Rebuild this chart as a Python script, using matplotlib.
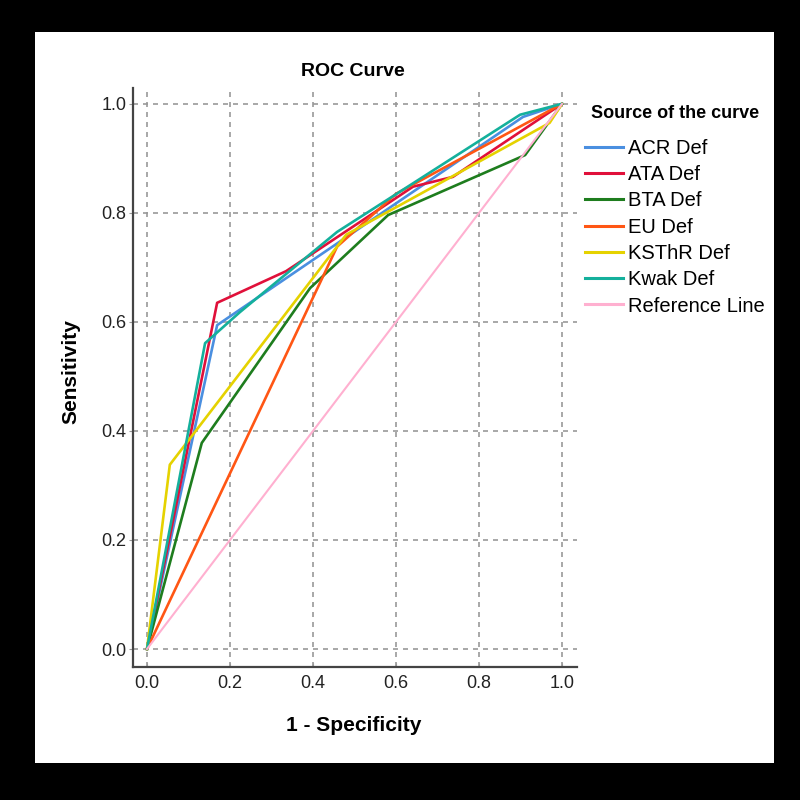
import matplotlib
matplotlib.use("Agg")
import matplotlib.pyplot as plt
from matplotlib.patches import Rectangle

plt.rcParams['font.family'] = ['Liberation Sans', 'DejaVu Sans']

# ROC points (1 - specificity, sensitivity)
fpr_acr = [0, 0.169, 0.906, 1]
tpr_acr = [0, 0.594, 0.976, 1]
fpr_ata = [0, 0.169, 0.335, 0.641, 0.737, 1]
tpr_ata = [0, 0.635, 0.693, 0.848, 0.866, 1]
fpr_bta = [0, 0.132, 0.393, 0.581, 0.911, 1]
tpr_bta = [0, 0.378, 0.662, 0.796, 0.906, 1]
fpr_eu = [0, 0.458, 0.6, 1]
tpr_eu = [0, 0.738, 0.835, 1]
fpr_ksthr = [0, 0.055, 0.48, 0.97, 1]
tpr_ksthr = [0, 0.338, 0.76, 0.965, 1]
fpr_kwak = [0, 0.14, 0.224, 0.458, 0.899, 1]
tpr_kwak = [0, 0.561, 0.618, 0.765, 0.98, 1]
fpr_ref = [0, 1]
tpr_ref = [0, 1]

labels = ['ACR Def', 'ATA Def', 'BTA Def', 'EU Def', 'KSThR Def', 'Kwak Def', 'Reference Line']
colors = ['#4a8fe0', '#e0103a', '#1e7d1e', '#ff5614', '#e5d200', '#14b09c', '#ffb0d0']
ticks = [0.0, 0.2, 0.4, 0.6, 0.8, 1.0]

fig = plt.figure(figsize=(8, 8), dpi=100, facecolor='black')
fig.patches.append(Rectangle((35/800, 37/800), 739/800, 731/800, transform=fig.transFigure,
                             facecolor='white', edgecolor='none', zorder=-10))

ax = fig.add_axes([133/800, 133/800, 444/800, 579/800])
ax.set_facecolor('white')

curves = [(fpr_acr, tpr_acr), (fpr_ata, tpr_ata), (fpr_bta, tpr_bta), (fpr_eu, tpr_eu),
          (fpr_ksthr, tpr_ksthr), (fpr_kwak, tpr_kwak), (fpr_ref, tpr_ref)]
for (xs, ys), lab, col in zip(curves, labels, colors):
    lw = 1.5 if lab == 'Reference Line' else 1.9
    ax.plot(xs, ys, color=col, lw=lw, label=lab)

ax.set_xlim(-0.0337, 1.036)
ax.set_ylim(-0.033, 1.029)
ax.set_xticks(ticks)
ax.set_yticks(ticks)
ax.set_xticklabels(['%.1f' % t for t in ticks])
ax.set_yticklabels(['%.1f' % t for t in ticks])
ax.grid(True, linestyle=(0, (3, 3)), color='#999999', lw=1.2)
ax.set_axisbelow(True)

for s in ['top', 'right']:
    ax.spines[s].set_visible(False)
for s in ['left', 'bottom']:
    ax.spines[s].set_color('#444444')
    ax.spines[s].set_linewidth(1.6)

ax.tick_params(axis='x', direction='in', length=3, color='#999999', pad=6, labelsize=13, labelcolor='#222222')
ax.tick_params(axis='y', direction='out', length=3, color='#999999', pad=1.5, labelsize=13, labelcolor='#222222')

ax.set_xlabel('1 - Specificity', fontsize=15, fontweight='bold')
ax.xaxis.set_label_coords(0.498, -0.085)
ax.set_ylabel('Sensitivity', fontsize=15, fontweight='bold')
ax.yaxis.set_label_coords(-0.119, 0.51)

fig.text(353/800, 1 - 72/800, 'ROC Curve', ha='center', va='center', fontsize=14, fontweight='bold')

# legend title as its own text, entries below it
fig.text(591/800, 1 - 114/800, 'Source of the curve', ha='left', va='center', fontsize=13, fontweight='bold')
leg = ax.legend(loc='upper left', bbox_to_anchor=(585/800, 1 - 139/800), bbox_transform=fig.transFigure,
                frameon=False, fontsize=14.5, handlelength=1.9, handletextpad=0.25,
                labelspacing=0.36, borderpad=0, borderaxespad=0)
for line in leg.get_lines():
    line.set_linewidth(2.2)

fig.savefig('out.png', dpi=100, facecolor=fig.get_facecolor())
